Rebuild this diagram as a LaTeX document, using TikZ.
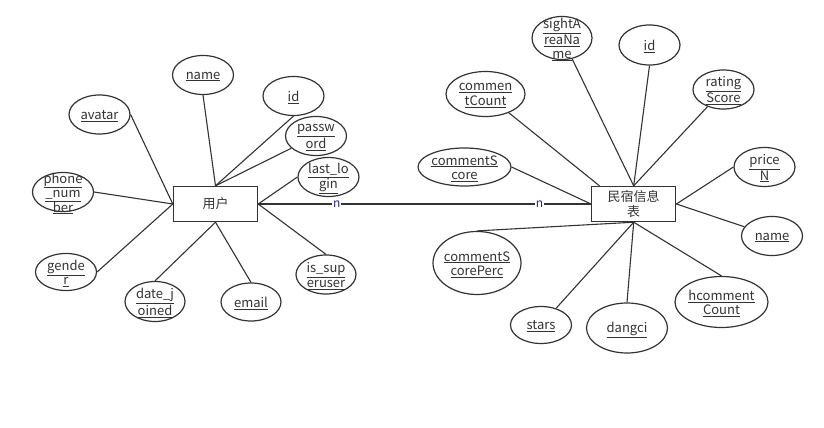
\documentclass[tikz,border=0pt]{standalone}
\usepackage{fontspec}
\setmainfont{Noto Sans CJK SC}
\usetikzlibrary{shapes.geometric}
\definecolor{erline}{HTML}{333333}
\definecolor{cardblue}{HTML}{2A2A8A}
\newcommand{\attr}[1]{\underline{#1}}
\tikzset{
  every picture/.style={line width=1.1pt},
  sattr/.style={ellipse, draw=erline, line width=1.2pt, fill=white,
                minimum width=61pt, minimum height=39pt, inner sep=0pt},
  stxt/.style={text=erline, font=\fontsize{13}{14.5}\selectfont, align=center,
               inner sep=0pt, yshift=-1.5pt},
  sentity/.style={rectangle, draw=erline, line width=1.4pt, fill=white,
                  minimum width=84pt, minimum height=35pt, inner sep=1pt,
                  text=erline, font=\fontsize{13}{15}\selectfont, align=center},
  slink/.style={draw=erline},
  scard/.style={fill=white, text=cardblue, inner sep=1pt, font=\fontsize{12}{14}\selectfont},
}

\begin{document}
\begin{tikzpicture}[x=1pt, y=-1pt]
  \useasboundingbox (0,0) rectangle (824,428);
  % entities
  \node[sentity] (U) at (215.5,204) {用户};
  \node[sentity] (M) at (633.7,204) {民宿信息\\表};

  % attributes of U
  \node[sattr, label={[stxt]center:{\attr{name}}}] (uname) at (203,75) {};
  \node[sattr, label={[stxt]center:{\attr{id}}}] (uid) at (293.5,96) {};
  \node[sattr, label={[stxt]center:{\attr{passw}\\\attr{ord}}}] (upass) at (316,136) {};
  \node[sattr, label={[stxt]center:{\attr{last\_lo}\\\attr{gin}}}] (ulast) at (328.5,177) {};
  \node[sattr, label={[stxt]center:{\attr{avatar}}}] (uavatar) at (99.5,114.5) {};
  \node[sattr, label={[stxt]center:{\attr{phone}\\\attr{\_num}\\\attr{ber}}}] (uphone) at (63,192) {};
  \node[sattr, minimum height=37pt, label={[stxt]center:{\attr{gende}\\\attr{r}}}] (ugender) at (66,272) {};
  \node[sattr, minimum width=60pt, minimum height=40pt, label={[stxt]center:{\attr{date\_j}\\\attr{oined}}}] (ujoined) at (155,301.5) {};
  \node[sattr, minimum width=60pt, minimum height=38pt, label={[stxt]center:{\attr{email}}}] (uemail) at (251,302) {};
  \node[sattr, minimum width=60pt, label={[stxt]center:{\attr{is\_sup}\\\attr{eruser}}}] (usuper) at (326,274.5) {};

  % attributes of M
  \node[sattr, minimum width=60pt, minimum height=43pt, label={[stxt]center:{\attr{sightA}\\\attr{reaNa}\\\attr{me}}}] (msight) at (562,38) {};
  \node[sattr, minimum height=40pt, label={[stxt]center:{\attr{id}}}] (mid) at (649.5,45) {};
  \node[sattr, label={[stxt]center:{\attr{rating}\\\attr{Score}}}] (mrating) at (723.5,89.5) {};
  \node[sattr, minimum width=79pt, minimum height=45pt, label={[stxt]center:{\attr{commen}\\\attr{tCount}}}] (mccount) at (485.5,94) {};
  \node[sattr, minimum width=93pt, minimum height=38pt, label={[stxt]center:{\attr{commentS}\\\attr{core}}}] (mcscore) at (464.5,167) {};
  \node[sattr, label={[stxt]center:{\attr{price}\\\attr{N}}}] (mprice) at (764.5,167) {};
  \node[sattr, label={[stxt]center:{\attr{name}}}] (mname) at (772,236) {};
  \node[sattr, minimum width=88pt, minimum height=63pt, label={[stxt]center:{\attr{commentS}\\\attr{corePerc}}}] (mcperc) at (477,263) {};
  \node[sattr, minimum height=37pt, label={[stxt]center:{\attr{stars}}}] (mstars) at (541,325) {};
  \node[sattr, minimum width=81pt, minimum height=50pt, label={[stxt]center:{\attr{dangci}}}] (mdangci) at (627,328) {};
  \node[sattr, minimum width=93pt, minimum height=51pt, label={[stxt]center:{\attr{hcomment}\\\attr{Count}}}] (mhcount) at (721.5,302) {};

  % links of U
  \draw[slink] (uname.south) -- (U.north);
  \draw[slink] (uid.south) -- (U.north);
  \draw[slink] (upass) -- (U.north);
  \draw[slink] (ulast.west) -- (U.east);
  \draw[slink] (uavatar.east) -- (U.west);
  \draw[slink] (uphone.east) -- (U.west);
  \draw[slink] (ugender.east) -- (U.west);
  \draw[slink] (ujoined.north) -- (U.south);
  \draw[slink] (uemail.north) -- (U.south);
  \draw[slink] (usuper.north) -- (U.east);

  % links of M
  \draw[slink] (msight) -- (M.north);
  \draw[slink] (mid.south) -- (M.north);
  \draw[slink] (mrating) -- (M.north);
  \draw[slink] (mccount) -- (M.152);
  \draw[slink] (mcscore.east) -- (M.west);
  \draw[slink] (mprice.west) -- (M.east);
  \draw[slink] (mname) -- (M.east);
  \draw[slink] (mcperc.north) -- (M.south);
  \draw[slink] (mstars) -- (M.south);
  \draw[slink] (mdangci.north) -- (M.south);
  \draw[slink] (mhcount.north) -- (M.south);

  % relation
  \draw[slink] (U.east) -- node[scard, pos=0.236] {n} node[scard, pos=0.845] {n} (M.west);
\end{tikzpicture}
\end{document}
